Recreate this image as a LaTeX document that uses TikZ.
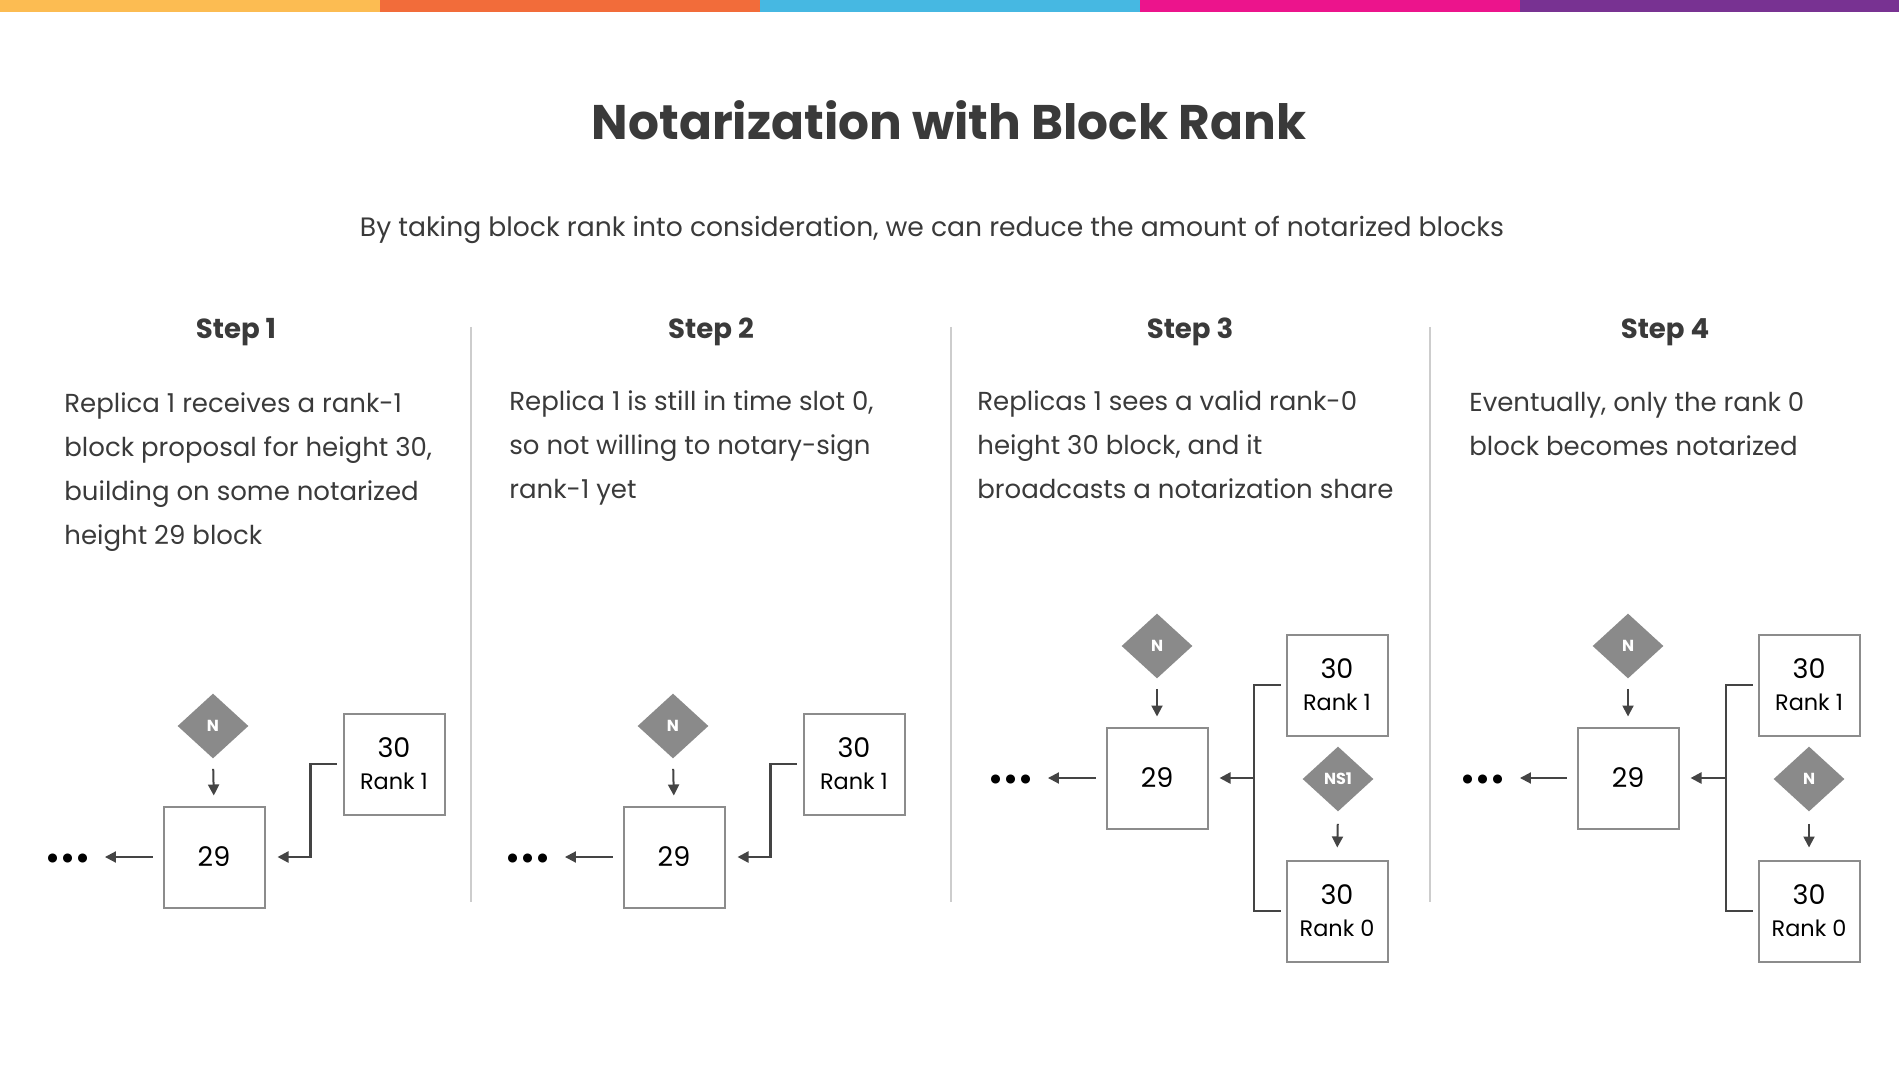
\documentclass[tikz,border=0pt]{standalone}
\usepackage{fontspec}
\setmainfont{Poppins}
\usetikzlibrary{shapes.geometric,arrows.meta}

\definecolor{barA}{RGB}{252,188,82}
\definecolor{barB}{RGB}{242,108,58}
\definecolor{barC}{RGB}{70,184,226}
\definecolor{barD}{RGB}{236,20,140}
\definecolor{barE}{RGB}{120,50,146}
\definecolor{inkgray}{RGB}{58,58,58}
\definecolor{sepgray}{RGB}{205,205,205}
\definecolor{boxgray}{RGB}{140,140,140}
\definecolor{dmdgray}{RGB}{138,138,138}
\definecolor{arrgray}{RGB}{68,68,68}

\begin{document}
\begin{tikzpicture}[x=0.5pt,y=-0.5pt,
	title/.style={text=inkgray, inner sep=0pt, font=\fontsize{24.3}{30}\selectfont\bfseries},
	subtitle/.style={text=inkgray, inner sep=0pt, font=\fontsize{13.3}{16}\selectfont},
	stephead/.style={text=inkgray, inner sep=0pt, font=\fontsize{13.8}{16}\selectfont\bfseries},
	txt/.style={text=inkgray, align=left, anchor=north west, inner sep=0pt, font=\fontsize{13}{22}\selectfont},
	blk/.style={draw=boxgray, line width=1pt, minimum size=50.5pt, inner sep=0pt, fill=white, align=center, text=black},
	nota/.style={diamond, fill=dmdgray, minimum width=35.5pt, minimum height=32.5pt, inner sep=0pt, text=white, font=\fontsize{8}{8}\selectfont\bfseries},
	arr/.style={-{Triangle[length=5.5pt,width=5.5pt]}, draw=arrgray, line width=1pt},
	conn/.style={draw=arrgray, line width=1.2pt},
	dotrow/.style={inner sep=0pt, text=black, font=\fontsize{15}{15}\selectfont\bfseries},
	sep/.style={draw=sepgray, line width=0.6pt}]
	\useasboundingbox (0,0) rectangle (1899,1069);
	%---------------- COLOUR BAR ----------------
	\fill[barA] (0,0) rectangle (380,12);
	\fill[barB] (380,0) rectangle (760,12);
	\fill[barC] (760,0) rectangle (1140,12);
	\fill[barD] (1140,0) rectangle (1520,12);
	\fill[barE] (1520,0) rectangle (1899,12);
	%---------------- TITLE ----------------
	\node[title] (ttl) at (949,120) {Notarization with Block Rank};
	\node[subtitle] (sub) at (932,230) {By taking block rank into consideration, we can reduce the amount of notarized blocks};
	%---------------- SEPARATORS ----------------
	\draw[sep] (471,327) -- (471,902);
	\draw[sep] (951,327) -- (951,902);
	\draw[sep] (1430,327) -- (1430,902);
	%---------------- STEP 1 ----------------
	\node[stephead] (h1) at (236,332) {Step 1};
	\node[txt] (t1) at (64,392) {Replica 1 receives a rank-1\\block proposal for height 30,\\building on some notarized\\height 29 block};
	\node[nota] (n1) at (213,726) {N};
	\node[blk] (b29a) at (214,857) {\fontsize{13.5}{16}\selectfont 29};
	\node[blk] (b30a) at (394,764) {\fontsize{13.5}{17}\selectfont 30\\[4pt]\fontsize{11.2}{17}\selectfont Rank 1};
	\node[dotrow] (d1) at (68,861) {\textbullet\textbullet\textbullet};
	\draw[arr, shorten <=5pt, shorten >=5pt] (n1.south) -- (b29a.north);
	\draw[arr, shorten <=5pt, shorten >=7pt] (b29a.west) -- (d1.east |- b29a.west);
	\draw[arr, line width=1.2pt, shorten <=3pt, shorten >=6pt] (b30a.west) -- ++(-32,0) |- (b29a.east);
	%---------------- STEP 2 ----------------
	\node[stephead] (h2) at (711,332) {Step 2};
	\node[txt] (t2) at (509,390) {Replica 1 is still in time slot 0,\\so not willing to notary-sign\\rank-1 yet};
	\node[nota] (n2) at (673,726) {N};
	\node[blk] (b29b) at (674,857) {\fontsize{13.5}{16}\selectfont 29};
	\node[blk] (b30b) at (854,764) {\fontsize{13.5}{17}\selectfont 30\\[4pt]\fontsize{11.2}{17}\selectfont Rank 1};
	\node[dotrow] (d2) at (528,861) {\textbullet\textbullet\textbullet};
	\draw[arr, shorten <=5pt, shorten >=5pt] (n2.south) -- (b29b.north);
	\draw[arr, shorten <=5pt, shorten >=7pt] (b29b.west) -- (d2.east |- b29b.west);
	\draw[arr, line width=1.2pt, shorten <=3pt, shorten >=6pt] (b30b.west) -- ++(-32,0) |- (b29b.east);
	%---------------- STEP 3 ----------------
	\node[stephead] (h3) at (1190,332) {Step 3};
	\node[txt] (t3) at (977,390) {Replicas 1 sees a valid rank-0\\height 30 block, and it\\broadcasts a notarization share};
	\node[nota] (n3) at (1157,646) {N};
	\node[blk] (b29c) at (1157,778) {\fontsize{13.5}{16}\selectfont 29};
	\node[blk] (b30c) at (1337,685) {\fontsize{13.5}{17}\selectfont 30\\[4pt]\fontsize{11.2}{17}\selectfont Rank 1};
	\node[nota] (ns3) at (1338,779) {NS1};
	\node[blk] (b30d) at (1337,911) {\fontsize{13.5}{17}\selectfont 30\\[4pt]\fontsize{11.2}{17}\selectfont Rank 0};
	\node[dotrow] (d3) at (1011,782) {\textbullet\textbullet\textbullet};
	\coordinate (j3) at (1254,778);
	\draw[arr, shorten <=5pt, shorten >=5pt] (n3.south) -- (b29c.north);
	\draw[arr, shorten <=6pt, shorten >=6pt] (ns3.south) -- (b30d.north);
	\draw[arr, shorten <=5pt, shorten >=7pt] (b29c.west) -- (d3.east |- b29c.west);
	\draw[conn, shorten <=2.5pt, shorten >=2.5pt] (b30c.west) -| (j3) |- (b30d.west);
	\draw[arr, line width=1.2pt, shorten >=5.5pt] (j3) -- (b29c.east);
	%---------------- STEP 4 ----------------
	\node[stephead] (h4) at (1665,332) {Step 4};
	\node[txt] (t4) at (1469,392) {Eventually, only the rank 0\\block becomes notarized};
	\node[nota] (n4) at (1628,646) {N};
	\node[blk] (b29e) at (1628,778) {\fontsize{13.5}{16}\selectfont 29};
	\node[blk] (b30e) at (1809,685) {\fontsize{13.5}{17}\selectfont 30\\[4pt]\fontsize{11.2}{17}\selectfont Rank 1};
	\node[nota] (ns4) at (1809,779) {N};
	\node[blk] (b30f) at (1809,911) {\fontsize{13.5}{17}\selectfont 30\\[4pt]\fontsize{11.2}{17}\selectfont Rank 0};
	\node[dotrow] (d4) at (1483,782) {\textbullet\textbullet\textbullet};
	\coordinate (j4) at (1726,778);
	\draw[arr, shorten <=5pt, shorten >=5pt] (n4.south) -- (b29e.north);
	\draw[arr, shorten <=6pt, shorten >=6pt] (ns4.south) -- (b30f.north);
	\draw[arr, shorten <=5pt, shorten >=7pt] (b29e.west) -- (d4.east |- b29e.west);
	\draw[conn, shorten <=2.5pt, shorten >=2.5pt] (b30e.west) -| (j4) |- (b30f.west);
	\draw[arr, line width=1.2pt, shorten >=5.5pt] (j4) -- (b29e.east);
\end{tikzpicture}
\end{document}
